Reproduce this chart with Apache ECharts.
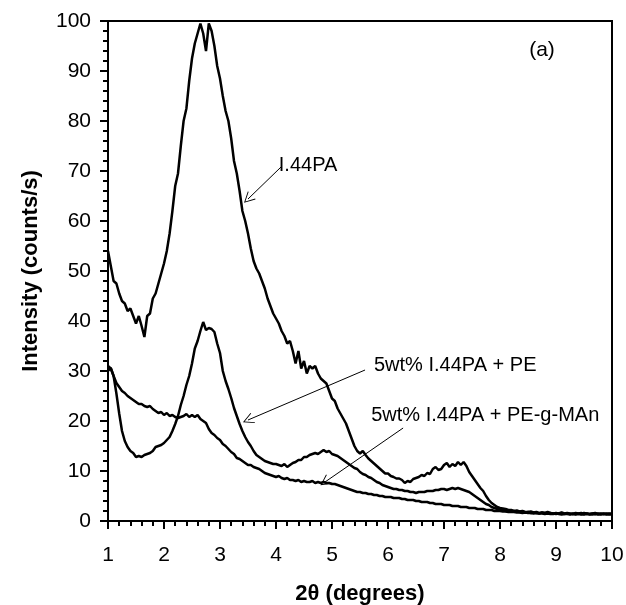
<!DOCTYPE html>
<html>
<head>
<meta charset="utf-8">
<script src="https://cdn.jsdelivr.net/npm/echarts@6/dist/echarts.min.js"></script>
<style>html,body{margin:0;padding:0;background:#fff}#c{width:626px;height:605px}</style>
</head>
<body>
<div id="c"></div>
<script>
const theta = [1.00,1.05,1.10,1.15,1.20,1.25,1.30,1.35,1.40,1.45,1.50,1.55,1.60,1.65,1.70,1.75,1.80,1.85,1.90,1.95,
2.00,2.05,2.10,2.15,2.20,2.25,2.30,2.35,2.40,2.45,2.50,2.55,2.60,2.65,2.70,2.75,2.80,2.85,2.90,2.95,
3.00,3.05,3.10,3.15,3.20,3.25,3.30,3.35,3.40,3.45,3.50,3.55,3.60,3.65,3.70,3.75,3.80,3.85,3.90,3.95,
4.00,4.05,4.10,4.15,4.20,4.25,4.30,4.35,4.40,4.45,4.50,4.55,4.60,4.65,4.70,4.75,4.80,4.85,4.90,4.95,
5.00,5.05,5.10,5.15,5.20,5.25,5.30,5.35,5.40,5.45,5.50,5.55,5.60,5.65,5.70,5.75,5.80,5.85,5.90,5.95,
6.00,6.05,6.10,6.15,6.20,6.25,6.30,6.35,6.40,6.45,6.50,6.55,6.60,6.65,6.70,6.75,6.80,6.85,6.90,6.95,
7.00,7.05,7.10,7.15,7.20,7.25,7.30,7.35,7.40,7.45,7.50,7.55,7.60,7.65,7.70,7.75,7.80,7.85,7.90,7.95,
8.00,8.05,8.10,8.15,8.20,8.25,8.30,8.35,8.40,8.45,8.50,8.55,8.60,8.65,8.70,8.75,8.80,8.85,8.90,8.95,
9.00,9.05,9.10,9.15,9.20,9.25,9.30,9.35,9.40,9.45,9.50,9.55,9.60,9.65,9.70,9.75,9.80,9.85,9.90,9.95,
10.00];

const pureI44PA = [54,51,48,47.5,45.5,44,43.5,42,42.5,41,39.5,41,39,36.8,41,41.5,44.5,45.5,47.5,49.5,
51.5,54,57.5,62,67,69.5,75,80,82.5,88,92.5,95.5,97.5,99.5,97.5,94,99.5,98,95,91,
88.5,85,82,80,76.5,72,69.5,66,62,60,57.5,54.5,52,50.5,49.5,48,46.5,44.5,43,41.5,
40.5,39.5,38,37,35.5,36,34,31.5,34,30.5,32,29.5,31,30.5,31,29.5,28.5,28,27.5,26,
24.5,24,22.5,21.5,20.5,19.5,18,16.5,15,14,13.5,14,13.2,12.5,12,11.5,11,10.5,10,9.5,
9.5,9,8.8,8.5,8.5,8.2,7.6,8,7.8,8.4,8.6,8.8,9.2,9.0,9.6,9.4,10.4,10.8,10.2,10.4,
11.2,11.6,10.8,11.4,11.0,11.8,11.2,11.8,11.0,9.8,9.0,8.2,7.4,6.6,6.0,5.0,4.2,3.6,3.2,2.8,
2.6,2.5,2.4,2.2,2.2,2.0,2.1,1.9,2.0,1.8,1.8,1.9,1.7,1.8,1.6,1.7,1.6,1.8,1.6,1.5,
1.6,1.5,1.7,1.5,1.6,1.5,1.4,1.6,1.5,1.4,1.6,1.5,1.4,1.5,1.6,1.4,1.5,1.4,1.5,1.4,
1.5];

const withPE = [31,30.5,29,25.5,21.5,18,16,14.8,14,13.6,12.8,13,12.8,13.2,13.4,13.6,14,14.8,15,15.2,
15.6,16.2,16.8,18,19.4,21,23.2,25,27.2,29,31.5,34.5,36,38,39.8,38.2,38.6,38.4,37.8,35.5,
33.6,30,28,26.4,24.6,22.6,21,19.4,18,16.8,15.8,15,14,13.2,12.8,12.4,12,11.8,11.6,11.4,
11.4,11.2,11,11.4,10.8,11.2,11.6,11.8,12.2,12.2,12.8,12.8,13.2,13.4,13.6,13.4,13.8,14.2,13.8,14,
13.4,13.2,13,12.6,12.2,11.8,11.4,11,10.6,10.4,9.8,9.4,9.2,8.8,8.6,8.2,7.8,7.6,7.2,7,
6.8,6.6,6.4,6.4,6.2,6.2,6,6,5.8,5.8,5.6,5.8,5.8,5.8,6,6,6,6.2,6.2,6.4,
6.4,6.2,6.4,6.6,6.4,6.6,6.4,6.2,6,5.8,5.4,5,4.6,4.2,3.8,3.4,3.2,2.8,2.6,2.4,
2.2,2.2,2,2.1,1.9,2,1.9,1.8,1.9,1.7,1.8,1.6,1.7,1.6,1.5,1.7,1.6,1.5,1.6,1.5,
1.4,1.5,1.6,1.4,1.5,1.4,1.5,1.4,1.5,1.6,1.4,1.5,1.4,1.5,1.4,1.5,1.4,1.5,1.4,1.5,
1.4];

const withPEgMAn = [30,30.6,29,27.6,26.8,26,25.6,25,24.6,24.2,23.8,23.4,23.4,23,22.8,23,22.4,22,21.6,21.8,
21.2,21.6,21,21.2,20.8,20.6,20.8,21,21.4,20.8,21.2,20.8,21.2,20.4,20,19.6,18.4,17.6,17.2,16.6,
16.2,15.4,15,14.4,13.8,13.4,12.6,12.4,12,11.6,11.2,11.2,10.8,10.6,10.4,10,9.6,9.4,9.2,9,
8.8,9,8.6,8.4,8.6,8.2,8.2,8,8.2,7.8,8,7.8,7.8,8,7.6,7.8,7.6,7.8,7.6,7.6,
7.4,7.4,7.2,7,6.8,6.6,6.4,6.2,6,5.8,5.8,5.6,5.6,5.4,5.4,5.2,5.2,5,5,4.8,
4.8,4.8,4.6,4.6,4.6,4.4,4.4,4.2,4.2,4.2,4,4,3.8,3.8,3.8,3.6,3.6,3.4,3.4,3.4,
3.2,3.2,3.2,3,3,3,2.8,2.8,2.8,2.6,2.6,2.6,2.4,2.4,2.4,2.2,2.2,2.2,2,2,
2,1.9,1.9,1.8,1.8,1.8,1.7,1.7,1.6,1.7,1.6,1.6,1.5,1.6,1.5,1.5,1.4,1.5,1.4,1.4,
1.5,1.4,1.3,1.4,1.4,1.3,1.4,1.3,1.4,1.3,1.3,1.4,1.3,1.3,1.4,1.3,1.3,1.4,1.3,1.3,
1.3];

const seriesNames = ['I.44PA', '5wt% I.44PA + PE', '5wt% I.44PA + PE-g-MAn'];
const xTicks = [1,2,3,4,5,6,7,8,9,10];
const yTicks = [0,10,20,30,40,50,60,70,80,90,100];

// annotation anchors (data coordinates)
const labelAnchors = [[4.05, 71.2], [5.75, 31.2], [5.70, 21.2]];
const arrowTails = [[4.09, 70.8], [5.59, 30.2], [6.27, 18.6]];
const arrowHeads = [[3.50, 64.4], [3.50, 20.2], [4.875, 7.8]];
const panelLabel = '(a)';
const panelAnchor = [8.75, 94.2];

const FONT = 'Liberation Sans, Arial, sans-serif';
const chevron = 'path://M0,0 L10,18 L8.6,18.8 L0,3.2 L-8.6,18.8 L-10,18 Z';

const series = [pureI44PA, withPE, withPEgMAn].map((vals, i) => ({
  name: seriesNames[i],
  type: 'line',
  data: theta.map((t, k) => [t, vals[k]]),
  showSymbol: false,
  symbol: 'none',
  lineStyle: { color: '#000', width: 2.5 },
  itemStyle: { color: '#000' },
  z: 2,
  animation: false
}));

series.push({
  type: 'line',
  data: [],
  silent: true,
  animation: false,
  markLine: {
    silent: true,
    animation: false,
    symbol: ['none', chevron],
    symbolSize: [11, 11],
    lineStyle: { color: '#000', width: 1, type: 'solid' },
    label: { show: false },
    data: arrowTails.map((t, i) => [{ coord: t }, { coord: arrowHeads[i] }])
  },
  markPoint: {
    silent: true,
    animation: false,
    symbol: 'circle',
    symbolSize: 0,
    itemStyle: { color: 'transparent' },
    label: {
      show: true,
      position: [0, 0],
      align: 'left',
      verticalAlign: 'middle',
      color: '#000',
      fontSize: 20,
      fontFamily: FONT
    },
    data: labelAnchors.map((c, i) => ({ coord: c, value: seriesNames[i], label: { formatter: seriesNames[i] } }))
      .concat([{ coord: panelAnchor, value: panelLabel, label: { formatter: panelLabel, align: 'center', fontSize: 21 } }])
  }
});

const chart = echarts.init(document.getElementById('c'), null, { renderer: 'canvas' });
chart.setOption({
  animation: false,
  backgroundColor: '#fff',
  grid: { left: 108, right: 14, top: 21, bottom: 84, containLabel: false, outerBoundsMode: 'none', show: true, borderColor: '#000', borderWidth: 2, backgroundColor: 'transparent' },
  xAxis: {
    type: 'value',
    min: xTicks[0], max: xTicks[xTicks.length - 1], interval: 1,
    name: '2θ (degrees)',
    nameLocation: 'middle',
    nameGap: 62,
    nameTextStyle: { fontSize: 22, fontWeight: 'bold', fontFamily: FONT, color: '#000' },
    axisLine: { show: true, onZero: false, lineStyle: { color: '#000', width: 2 } },
    axisTick: { show: true, inside: false, length: 8, lineStyle: { color: '#000', width: 2 } },
    minorTick: { show: true, splitNumber: 5, length: 5, lineStyle: { color: '#000', width: 2 } },
    splitLine: { show: false },
    axisLabel: { fontSize: 21, fontFamily: FONT, color: '#000', margin: 24 }
  },
  yAxis: {
    type: 'value',
    min: yTicks[0], max: yTicks[yTicks.length - 1], interval: 10,
    name: 'Intensity (counts/s)',
    nameLocation: 'middle',
    nameGap: 66,
    nameTextStyle: { fontSize: 22, fontWeight: 'bold', fontFamily: FONT, color: '#000' },
    axisLine: { show: true, onZero: false, lineStyle: { color: '#000', width: 2 } },
    axisTick: { show: true, inside: false, length: 8, lineStyle: { color: '#000', width: 2 } },
    minorTick: { show: true, splitNumber: 5, length: 5, lineStyle: { color: '#000', width: 2 } },
    splitLine: { show: false },
    axisLabel: { fontSize: 21, fontFamily: FONT, color: '#000', margin: 17 }
  },
  series: series
});
</script>
</body>
</html>
